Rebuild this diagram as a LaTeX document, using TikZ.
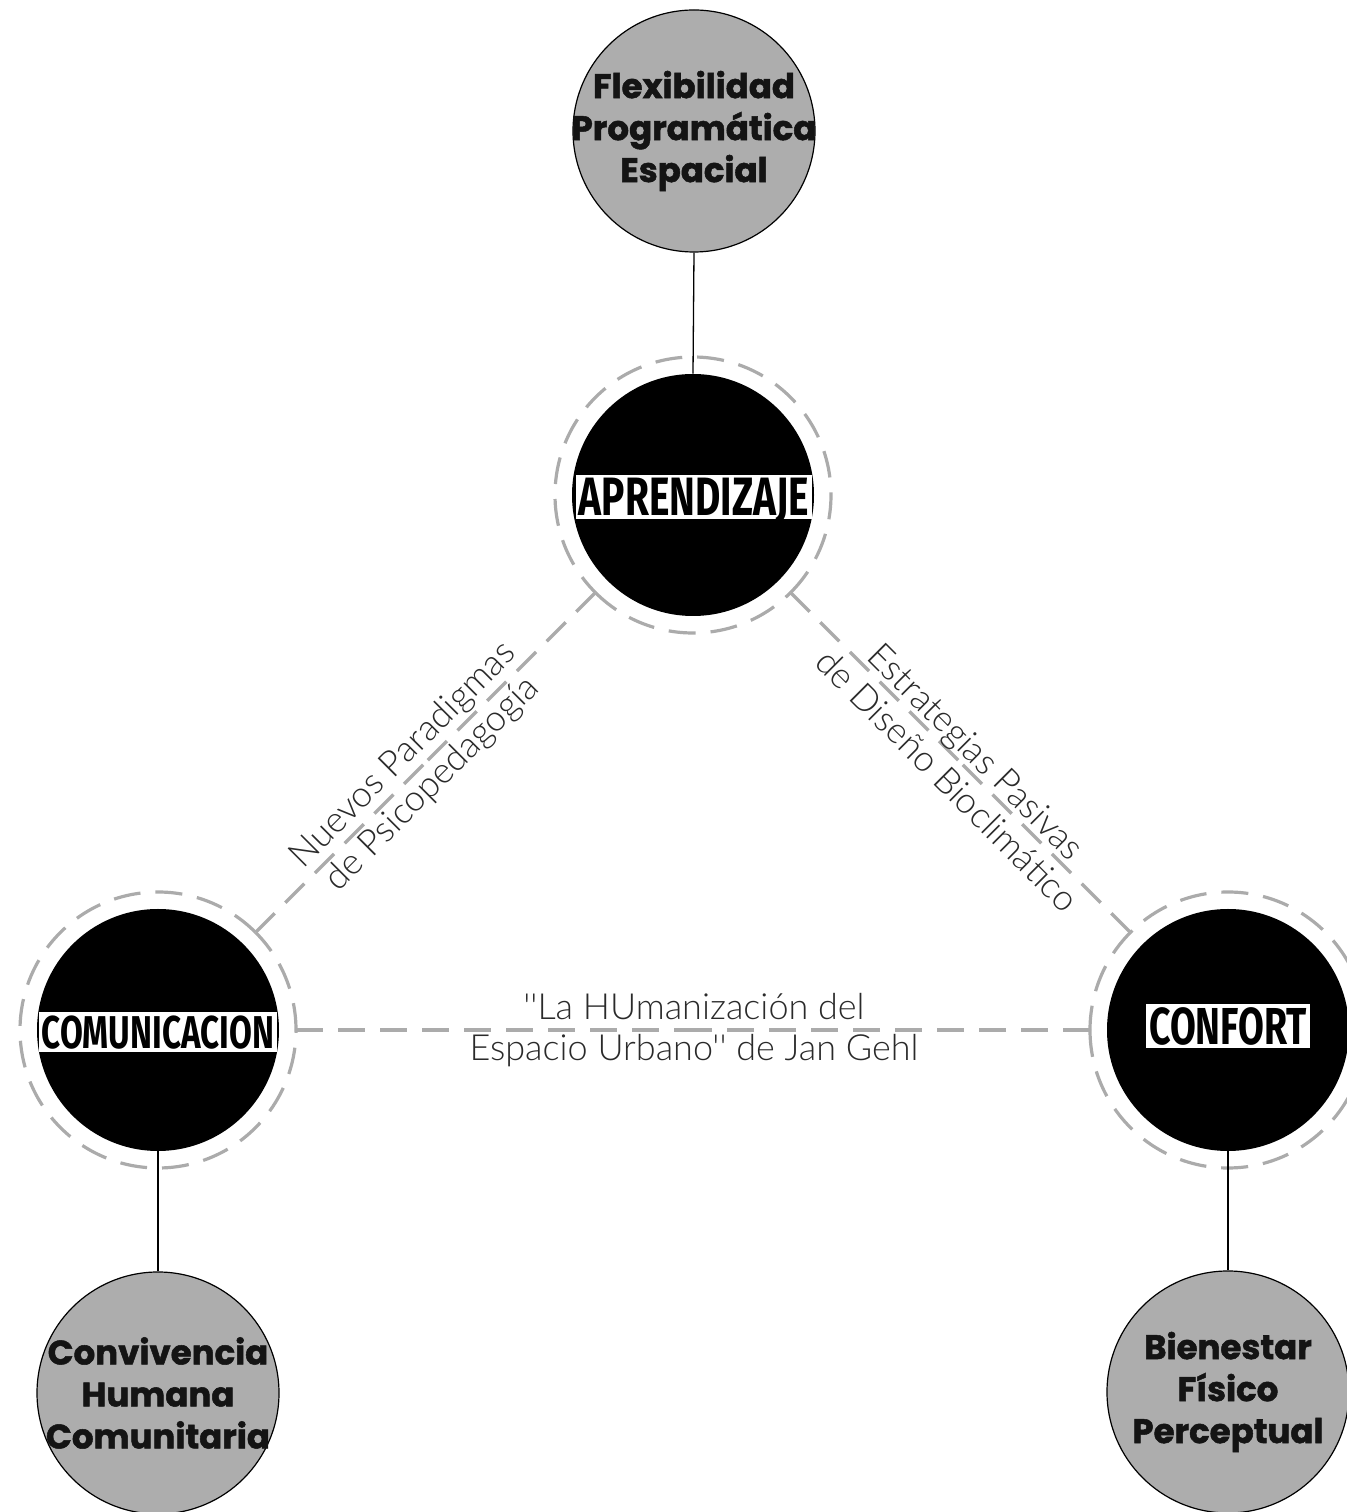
\documentclass[tikz,border=0pt]{standalone}
\usepackage{fontspec}
\usetikzlibrary{calc}
\newfontfamily\lightfont[UprightFont={* Light}]{Lato}
\newfontfamily\heavyfont[BoldFeatures={FakeBold=1.5}]{Poppins}
\newfontfamily\condfont[FakeStretch=0.72]{Fira Sans}
\definecolor{greyfill}{HTML}{ADADAD}
\definecolor{dashgrey}{HTML}{ABABAB}
\definecolor{labelgrey}{HTML}{2A2A2A}
\begin{document}
\begin{tikzpicture}[x=0.5pt,y=0.5pt,
  keycircle/.style={circle,fill=black,draw=none,minimum size=121pt,inner sep=0pt},
  subcircle/.style={circle,fill=greyfill,draw=black,line width=0.6pt,minimum size=121pt,inner sep=0pt},
  subtext/.style={align=center,inner sep=0pt,text=black!92,font=\heavyfont\bfseries\fontsize{17}{21}\selectfont},
  keytext/.style={fill=white,text=black,inner xsep=1.5pt,inner ysep=1.8pt,text depth=0pt},
  ring/.style={draw=dashgrey,line width=1.6pt,dash pattern=on 13.5pt off 7.5pt},
  link/.style={draw=black,line width=0.65pt},
  edgelabel/.style={align=center,text=labelgrey,inner sep=0pt,font=\lightfont\fontsize{18}{20.5}\selectfont}
]
\useasboundingbox (0,0) rectangle (1346,1512);

% circles
\node[subcircle] (F) at (694,1381) {};
\node[keycircle] (A) at (693,1017) {};
\node[keycircle] (C) at (158,482) {};
\node[keycircle] (K) at (1228,482) {};
\node[subcircle] (V) at (158,119) {};
\node[subcircle] (B) at (1228,120) {};

% texts in circles
\node[subtext] (Ft) at (F) {Flexibilidad\\Programática\\Espacial};
\node[subtext] (Vt) at (V) {Convivencia\\Humana\\Comunitaria};
\node[subtext] (Bt) at (B) {Bienestar\\Físico\\Perceptual};
\node[keytext,font=\condfont\bfseries\fontsize{27}{27}\selectfont] (At) at (694,1015) {APRENDIZAJE};
\node[keytext,font=\condfont\bfseries\fontsize{23}{23}\selectfont] (Ct) at (158,480) {COMUNICACION};
\node[keytext,font=\condfont\bfseries\fontsize{26}{26}\selectfont] (Kt) at (1228,486) {CONFORT};

% ring corners
\coordinate (Abl) at ($(A)+(225:138)$);
\coordinate (Abr) at ($(A)+(315:138)$);
\coordinate (Ctr) at ($(C)+(45:138)$);
\coordinate (Cr)  at ($(C)+(0:138)$);
\coordinate (Ktl) at ($(K)+(135:138)$);
\coordinate (Kl)  at ($(K)+(180:138)$);

% dashed rings
\draw[ring] (Abr) arc[start angle=-45,end angle=225,radius=138];
\draw[ring] (Abl) arc[start angle=225,end angle=315,radius=138];
\draw[ring] (Ctr) arc[start angle=45,end angle=360,radius=138];
\draw[ring] (Cr) arc[start angle=0,end angle=45,radius=138];
\draw[ring] (Kl) arc[start angle=180,end angle=495,radius=138];
\draw[ring] (Ktl) arc[start angle=135,end angle=180,radius=138];

% dashed connectors
\coordinate (mAC) at ($(Abl)!0.5!(Ctr)$);
\coordinate (mAK) at ($(Abr)!0.5!(Ktl)$);
\coordinate (mCK) at ($(Cr)!0.5!(Kl)$);
\draw[ring] (Abl) -- (mAC);
\draw[ring] (Ctr) -- (mAC);
\draw[ring] (Abr) -- (mAK);
\draw[ring] (Ktl) -- (mAK);
\draw[ring] (Cr) -- (mCK);
\draw[ring] (Kl) -- (mCK);

% solid links
\draw[link] (F.south) -- (A.north);
\draw[link] (C.south) -- (V.north);
\draw[link] (K.south) -- (B.north);

% labels
\node[edgelabel,rotate=45] (L1) at (418,742) {Nuevos Paradigmas\\de Psicopedagogía};
\node[edgelabel,rotate=-45] (L2) at (962,746) {Estrategias Pasivas\\de Diseño Bioclimático};
\node[edgelabel] (L3) at (694,482) {''La HUmanización del\\Espacio Urbano'' de Jan Gehl};
\end{tikzpicture}
\end{document}
